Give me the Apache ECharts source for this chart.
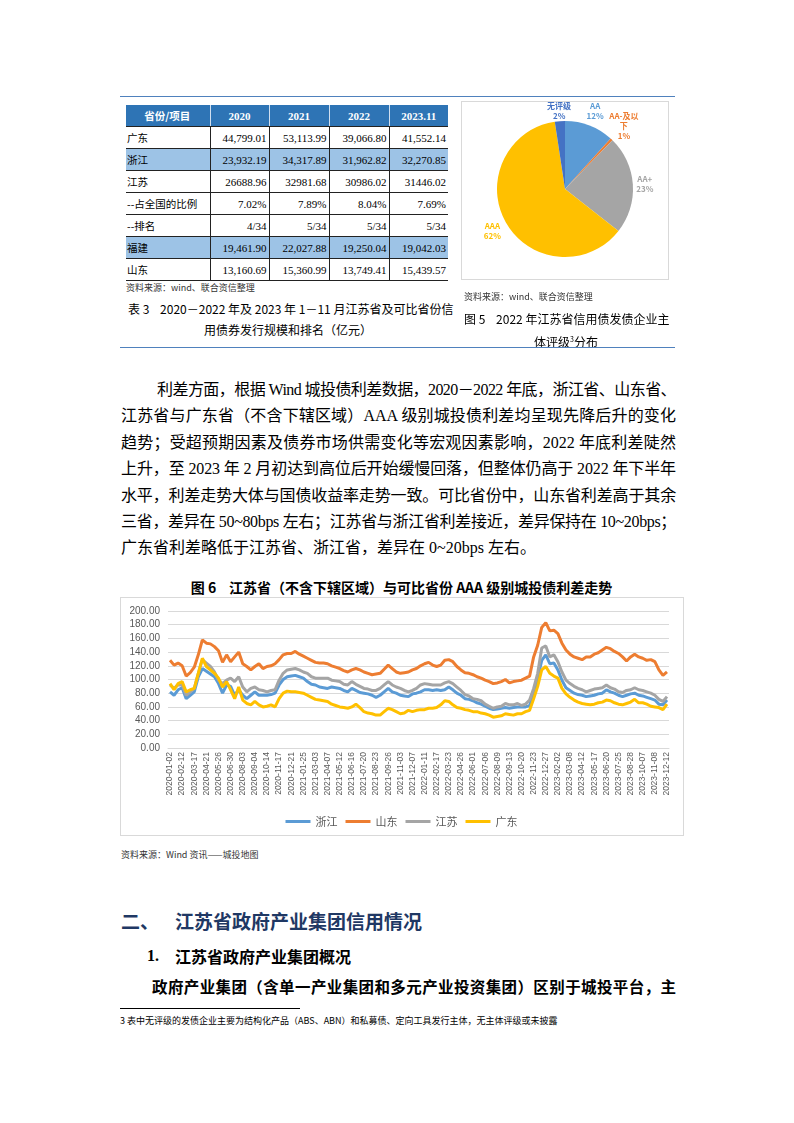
<!DOCTYPE html>
<html><head><meta charset="utf-8">
<script src="https://cdn.jsdelivr.net/npm/echarts@6.0.0/dist/echarts.min.js"></script>
<style>
body{margin:0;width:794px;height:1123px;position:relative;background:#fff;font-family:"Liberation Serif","Noto Sans CJK SC",serif;color:#000;overflow:hidden}
.a{position:absolute;white-space:nowrap}
.cjk{font-family:"Noto Sans CJK SC",sans-serif}
table{border-collapse:collapse;position:absolute;left:126px;top:105px;table-layout:fixed}
td{padding:0 2px;height:21px;font-size:11px;font-family:"Liberation Serif","Noto Sans CJK SC",serif;border-bottom:1px solid #222;text-align:right;white-space:nowrap}
td.l{text-align:left;font-family:"Noto Sans CJK SC",sans-serif;font-size:10.5px;padding-left:1px}
td+td{border-left:1px solid #222}
tr.h td{background:#2E74B5;color:#fff;font-weight:bold;text-align:center;height:21px;border-left-color:#d0dff0;border-bottom:1px solid #222}
tr.h td.l{text-align:center;font-family:"Noto Sans CJK SC",sans-serif;font-weight:700}
tr.hl td{background:#9DC3E6}
.jl{position:absolute;font-size:16px;line-height:22px;text-align:justify;text-align-last:justify}
</style></head><body>
<div class="a" style="left:120px;top:96px;width:555px;height:1px;background:#4F81BD"></div>
<table id="tbl"></table>
<div class="a cjk" style="left:126px;top:281px;font-size:9px;color:#333">资料来源：wind、联合资信整理</div>
<div class="a cjk" style="left:128px;top:301px;font-size:12px;line-height:16px">表 3&nbsp;&nbsp;&nbsp;&nbsp;2020－2022 年及 2023 年 1－11 月江苏省及可比省份信</div>
<div class="a cjk" style="left:128px;top:322px;width:320px;text-align:center;font-size:12px;line-height:16px">用债券发行规模和排名（亿元）</div>

<div id="pie" class="a" style="left:461px;top:101px;width:207px;height:178px"></div>
<div class="a" style="left:461px;top:101px;width:206px;height:177px;border:1px solid #D9D9D9;pointer-events:none"></div>
<div class="a cjk" style="left:464px;top:290px;font-size:9px;color:#333">资料来源：wind、联合资信整理</div>
<div class="a cjk" style="left:464px;top:311px;font-size:12px;line-height:16px">图 5&nbsp;&nbsp;&nbsp;&nbsp;2022 年江苏省信用债发债企业主</div>
<div class="a cjk" style="left:464px;top:331px;width:204px;text-align:center;font-size:12px;line-height:16px">体评级<sup style="font-size:7px">3</sup>分布</div>
<div class="a" style="left:120px;top:347px;width:555px;height:1px;background:#4F81BD"></div>

<div id="para"></div>

<div class="a cjk" style="left:120px;top:578px;width:563px;text-align:center;font-size:14px;font-weight:bold;line-height:18px">图 6&nbsp;&nbsp;&nbsp;&nbsp;江苏省（不含下辖区域）与可比省份 AAA 级别城投债利差走势</div>
<div id="line" class="a" style="left:120px;top:597px;width:563px;height:238px"></div>
<div class="a" style="left:120px;top:597px;width:562px;height:237px;border:1px solid #D9D9D9;pointer-events:none"></div>
<div class="a cjk" style="left:121px;top:848px;font-size:9px;color:#333">资料来源：Wind 资讯——城投地图</div>

<div class="a cjk" style="left:121px;top:908px;font-size:19px;font-weight:bold;color:#1F3864;line-height:26px">二、</div>
<div class="a cjk" style="left:175px;top:908px;font-size:19px;font-weight:bold;color:#1F3864;line-height:26px">江苏省政府产业集团信用情况</div>
<div class="a" style="left:147px;top:945px;font-size:16px;font-weight:bold;line-height:22px">1.</div>
<div class="a cjk" style="left:175px;top:945px;font-size:16px;font-weight:bold;line-height:22px">江苏省政府产业集团概况</div>
<div id="p2"></div>
<div class="a" style="left:120px;top:1008px;width:180px;height:1px;background:#000"></div>
<div class="a cjk" style="left:120px;top:1015px;font-size:9px;line-height:12px">3 表中无评级的发债企业主要为结构化产品（ABS、ABN）和私募债、定向工具发行主体，无主体评级或未披露</div>

<script>
// ---------- table data ----------
const tableHead = ['省份/项目', '2020', '2021', '2022', '2023.11'];
const tableRowNames = ['广东', '浙江', '江苏', '--占全国的比例', '--排名', '福建', '山东'];
const tableRowValues = [
  ['44,799.01', '53,113.99', '39,066.80', '41,552.14'],
  ['23,932.19', '34,317.89', '31,962.82', '32,270.85'],
  ['26688.96', '32981.68', '30986.02', '31446.02'],
  ['7.02%', '7.89%', '8.04%', '7.69%'],
  ['4/34', '5/34', '5/34', '5/34'],
  ['19,461.90', '22,027.88', '19,250.04', '19,042.03'],
  ['13,160.69', '15,360.99', '13,749.41', '15,439.57']
];
const tableHighlightRows = ['浙江', '福建'];

// ---------- pie data ----------
const pieNames = ['AA', 'AA-及以下', 'AA+', 'AAA', '无评级'];
const pieValues = [11.7, 0.6, 23.3, 62.0, 2.4];
const pieColors = ['#5B9BD5', '#ED7D31', '#A5A5A5', '#FFC000', '#4472C4'];

// ---------- line chart data ----------
const dates = [
'2020-01-02','2020-01-14','2020-02-04','2020-02-12','2020-02-24','2020-03-05','2020-03-17','2020-03-27','2020-04-09','2020-04-21',
'2020-05-06','2020-05-14','2020-05-26','2020-06-05','2020-06-17','2020-06-30','2020-07-10','2020-07-22','2020-08-03','2020-08-13',
'2020-08-25','2020-09-04','2020-09-16','2020-09-28','2020-10-14','2020-10-26','2020-11-05','2020-11-17','2020-11-27','2020-12-09',
'2020-12-21','2020-12-31','2021-01-13','2021-01-25','2021-02-04','2021-02-19','2021-03-03','2021-03-15','2021-03-25','2021-04-07',
'2021-04-19','2021-04-29','2021-05-12','2021-05-24','2021-06-03','2021-06-16','2021-06-28','2021-07-08','2021-07-20','2021-07-30',
'2021-08-11','2021-08-23','2021-09-02','2021-09-14','2021-09-26','2021-10-14','2021-10-22','2021-11-03','2021-11-15','2021-11-25',
'2021-12-07','2021-12-17','2021-12-29','2022-01-11','2022-01-21','2022-02-08','2022-02-17','2022-03-01','2022-03-11','2022-03-23',
'2022-04-06','2022-04-14','2022-04-26','2022-05-10','2022-05-20','2022-06-01','2022-06-14','2022-06-24','2022-07-06','2022-07-18',
'2022-07-28','2022-08-09','2022-08-19','2022-08-31','2022-09-13','2022-09-23','2022-10-11','2022-10-20','2022-11-01','2022-11-11',
'2022-11-23','2022-12-05','2022-12-15','2022-12-27','2023-01-09','2023-01-19','2023-02-02','2023-02-14','2023-02-24','2023-03-08',
'2023-03-20','2023-03-30','2023-04-12','2023-04-24','2023-05-08','2023-05-17','2023-05-29','2023-06-08','2023-06-20','2023-07-04',
'2023-07-13','2023-07-25','2023-08-04','2023-08-16','2023-08-28','2023-09-07','2023-09-19','2023-10-07','2023-10-17','2023-10-27',
'2023-11-08','2023-11-20','2023-11-30','2023-12-12'];

const zhejiang = [
82,77,85,88,72,77,82,104,116,112, 108,104,94,80,92,90,77,85,77,72,
77,82,77,77,77,78,80,92,100,104, 105,106,104,102,97,93,92,89,88,87,
89,88,87,84,82,87,84,81,80,79, 77,74,77,82,87,82,80,77,76,75,
79,80,82,85,85,84,85,84,85,89, 85,80,77,72,71,69,66,64,61,58,
56,57,58,59,58,59,60,60,60,62, 80,102,128,136,123,124,114,99,88,84,
80,78,77,75,76,77,79,80,85,82, 80,77,75,77,79,80,77,76,74,72,
70,64,63,70];

const shandong = [
128,121,124,120,105,110,118,136,158,153, 152,148,142,125,136,126,133,140,123,119,
114,119,123,116,119,120,123,129,136,138, 138,141,137,134,131,128,125,124,124,123,
120,118,116,113,111,114,116,114,111,109, 107,108,109,115,121,116,111,109,110,111,
114,116,120,123,125,121,119,121,128,129, 126,119,114,110,109,107,104,102,99,97,
94,95,97,100,95,97,98,99,102,105, 133,150,176,183,171,172,167,153,143,137,
133,131,129,133,133,137,139,143,147,145, 141,138,133,127,133,137,133,131,128,129,
126,114,106,111];

const jiangsu = [
92,87,92,92,77,82,87,109,129,124, 119,111,99,94,99,102,97,104,89,82,
87,89,85,84,82,84,85,99,109,114, 115,116,114,111,109,104,102,102,102,102,
99,98,97,93,92,97,93,90,87,86, 84,84,87,92,97,92,89,87,84,82,
84,87,92,94,93,92,92,92,95,97, 94,89,84,78,76,72,71,69,64,61,
58,60,61,65,63,63,65,62,64,70, 87,109,146,149,133,136,126,111,99,94,
90,87,85,82,84,86,87,88,92,88, 86,82,81,84,85,88,85,84,82,80,
77,71,68,75];

const guangdong = [
94,85,94,97,82,85,87,109,131,119, 114,109,102,89,97,85,72,89,70,65,
63,68,63,60,61,63,60,72,80,83, 82,82,81,80,77,74,71,70,69,68,
64,62,60,59,58,60,64,59,53,51, 50,48,48,53,58,56,53,50,51,55,
53,55,56,56,58,58,59,63,69,68, 63,59,58,56,55,53,53,51,50,48,
45,46,47,50,49,48,50,50,53,55, 72,90,114,119,109,105,102,87,79,74,
70,67,65,64,63,64,66,67,70,69, 66,64,63,65,67,71,66,66,64,61,
60,59,56,64];

const seriesNames = ['浙江', '山东', '江苏', '广东'];
const seriesColors = ['#5B9BD5', '#ED7D31', '#A5A5A5', '#FFC000'];

// ---------- paragraph text ----------
const paraLines = [
 '利差方面，根据 Wind 城投债利差数据，2020－2022 年底，浙江省、山东省、',
 '江苏省与广东省（不含下辖区域）AAA 级别城投债利差均呈现先降后升的变化',
 '趋势；受超预期因素及债券市场供需变化等宏观因素影响，2022 年底利差陡然',
 '上升，至 2023 年 2 月初达到高位后开始缓慢回落，但整体仍高于 2022 年下半年',
 '水平，利差走势大体与国债收益率走势一致。可比省份中，山东省利差高于其余',
 '三省，差异在 50~80bps 左右；江苏省与浙江省利差接近，差异保持在 10~20bps；',
 '广东省利差略低于江苏省、浙江省，差异在 0~20bps 左右。'
];
const para2 = '政府产业集团（含单一产业集团和多元产业投资集团）区别于城投平台，主';

// build table
(function(){
  const t = document.getElementById('tbl');
  const widths = [84, 59, 60, 60, 59];
  let cg = '<colgroup>' + widths.map(w => '<col style="width:' + w + 'px">').join('') + '</colgroup>';
  let h = '<tr class="h">' + tableHead.map((s, i) => '<td' + (i === 0 ? ' class="l"' : '') + '>' + s + '</td>').join('') + '</tr>';
  let b = tableRowNames.map((n, r) => '<tr' + (tableHighlightRows.includes(n) ? ' class="hl"' : '') + '><td class="l">' + n + '</td>' +
      tableRowValues[r].map(v => '<td>' + v + '</td>').join('') + '</tr>').join('');
  t.innerHTML = cg + h + b;
})();

// paragraph lines with justify
function makeLine(parent, text, left, top, width, size, extra) {
  const m = document.createElement('span');
  m.className = 'a';
  m.style.cssText = 'visibility:hidden;font-size:' + size + 'px;' + (extra || '');
  m.textContent = text;
  document.body.appendChild(m);
  const nat = m.getBoundingClientRect().width;
  document.body.removeChild(m);
  const d = document.createElement('div');
  d.className = 'jl';
  d.style.cssText = 'left:' + left + 'px;top:' + top + 'px;width:' + width + 'px;font-size:' + size + 'px;' + (extra || '');
  if (nat > width - 1) d.style.letterSpacing = ((width - 1 - nat) / text.length) + 'px';
  d.textContent = text;
  parent.appendChild(d);
}
const paraEl = document.getElementById('para');
const paraTops = [379, 405, 432, 458, 485, 511, 537];
paraLines.forEach((s, i) => {
  if (i === 0) makeLine(paraEl, s, 157, paraTops[i], 519, 16);
  else if (i === paraLines.length - 1) {
    const d = document.createElement('div');
    d.className = 'a'; d.style.cssText = 'left:121px;top:' + paraTops[i] + 'px;font-size:16px;line-height:22px';
    d.textContent = s; paraEl.appendChild(d);
  } else makeLine(paraEl, s, 121, paraTops[i], 555, 16);
});
makeLine(document.getElementById('p2'), para2, 152, 977, 524, 15.5, 'font-weight:bold;');

// pie chart
const pie = echarts.init(document.getElementById('pie'), null, {renderer: 'canvas'});
const pieTotal = pieValues.reduce((a, b) => a + b, 0);
const pieCx = 104, pieCy = 88, pieR = 68;
const pieLabelDist = [84, 86, 80, 84, 78];
pie.setOption({
  animation: false,
  color: pieColors,
  series: [{
    type: 'pie', center: [pieCx, pieCy], radius: pieR, startAngle: 90, clockwise: true,
    percentPrecision: 0,
    data: pieNames.map((n, i) => ({name: n, value: pieValues[i]})),
    label: {show: true, position: 'outside', formatter: '{b}\n{d}%', fontSize: 8, fontWeight: 'bold',
      lineHeight: 10, width: 34, overflow: 'break', align: 'center', color: 'inherit',
      fontFamily: 'Noto Sans CJK SC'},
    labelLine: {show: false},
    labelLayout: function (p) {
      let cum = 0;
      for (let i = 0; i < p.dataIndex; i++) cum += pieValues[i];
      const mid = (cum + pieValues[p.dataIndex] / 2) / pieTotal * Math.PI * 2;
      const R = pieLabelDist[p.dataIndex];
      return {x: pieCx + R * Math.sin(mid), y: pieCy - R * Math.cos(mid), align: 'center', verticalAlign: 'middle'};
    }
  }]
});

// line chart
const line = echarts.init(document.getElementById('line'), null, {renderer: 'canvas'});
const seriesData = [zhejiang, shandong, jiangsu, guangdong];
line.setOption({
  animation: false,
  color: seriesColors,
  grid: {left: 48, top: 14, width: 501, height: 137, containLabel: false},
  legend: {top: 214, left: 'center', itemWidth: 25, itemHeight: 3, itemGap: 8, icon: 'rect',
    textStyle: {fontSize: 11, color: '#595959', fontFamily: 'Noto Sans CJK SC'}, data: seriesNames},
  xAxis: {type: 'category', data: dates, boundaryGap: true,
    axisTick: {show: false}, axisLine: {lineStyle: {color: '#D9D9D9'}},
    axisLabel: {interval: 2, rotate: 90, fontSize: 8.5, color: '#595959', fontFamily: 'Liberation Sans', margin: 4}},
  yAxis: {type: 'value', min: 0, max: 200, interval: 20,
    axisLabel: {formatter: v => v.toFixed(2), fontSize: 10, color: '#595959', fontFamily: 'Liberation Sans', margin: 8},
    splitLine: {lineStyle: {color: '#D9D9D9'}}, axisLine: {show: false}, axisTick: {show: false}},
  series: seriesNames.map((n, i) => ({name: n, type: 'line', data: seriesData[i], showSymbol: false, symbol: 'none',
    lineStyle: {width: 3, color: seriesColors[i]}}))
});
</script>
</body></html>
